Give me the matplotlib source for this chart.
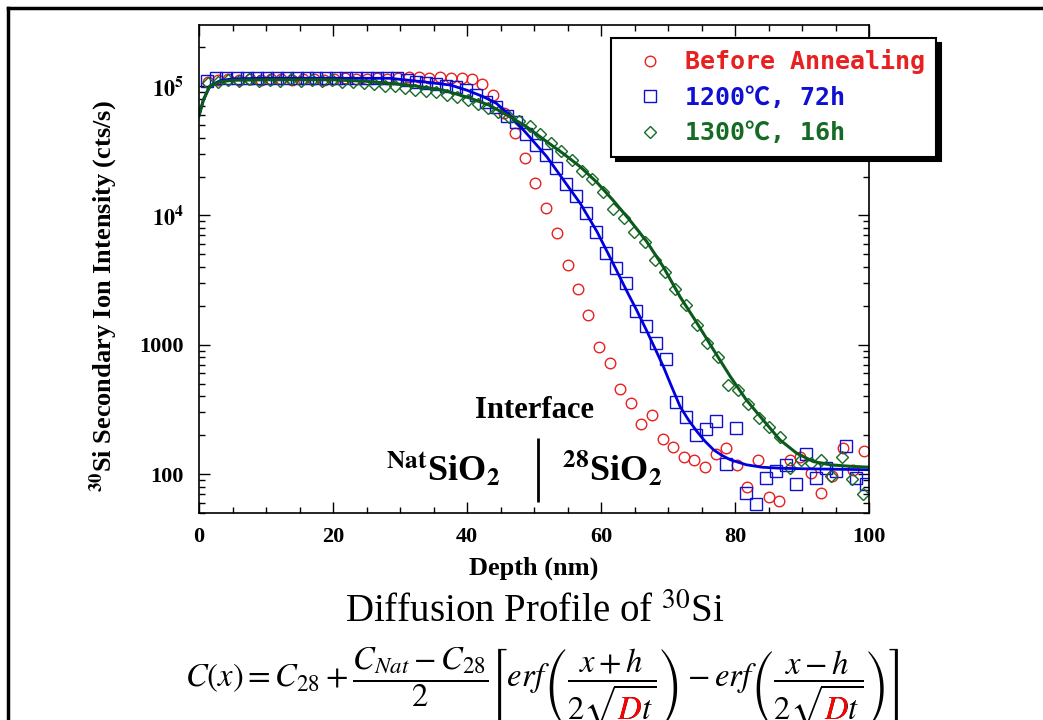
import matplotlib
matplotlib.use("Agg")
import matplotlib.pyplot as plt
from matplotlib.lines import Line2D
from matplotlib.ticker import FixedLocator, MultipleLocator, LogLocator, NullFormatter
from matplotlib.mathtext import MathTextParser
from matplotlib.font_manager import FontProperties
from matplotlib.transforms import Bbox

plt.rcParams["font.family"] = "Liberation Serif"
plt.rcParams["mathtext.fontset"] = "stix"

# Before annealing (red circles)
depth_before = [1.3, 2.8, 4.4, 6.0, 7.6, 9.2, 10.7, 12.3, 13.9, 15.5,
                17.1, 18.6, 20.2, 21.8, 23.4, 25.0, 26.5, 28.1, 29.7, 31.3,
                32.9, 34.4, 36.0, 37.6, 39.2, 40.8, 42.3, 43.9, 45.5, 47.1,
                48.7, 50.2, 51.8, 53.4, 55.0, 56.6, 58.1, 59.7, 61.3, 62.9,
                64.5, 66.0, 67.6, 69.2, 70.8, 72.4, 73.9, 75.5, 77.1, 78.7,
                80.3, 81.8, 83.4, 85.0, 86.6, 88.2, 89.7, 91.3, 92.9, 94.5,
                96.1, 97.6, 99.2]
int_before = [1.08e5, 1.12e5, 1.13e5, 1.12e5, 1.14e5, 1.12e5, 1.13e5, 1.14e5, 1.12e5, 1.13e5,
              1.14e5, 1.12e5, 1.13e5, 1.15e5, 1.13e5, 1.14e5, 1.15e5, 1.14e5, 1.16e5, 1.18e5,
              1.18e5, 1.15e5, 1.18e5, 1.15e5, 1.15e5, 1.13e5, 1.03e5, 8.6e4, 6.2e4, 4.35e4,
              2.8e4, 1.79e4, 1.14e4, 7.3e3, 4.14e3, 2.69e3, 1.69e3, 955, 719, 455,
              353, 243, 287, 186, 163, 135, 129, 114, 143, 159,
              118, 80, 129, 67, 62, 129, 136, 102, 72, 96,
              159, 108, 152]

# 1200C, 72h (blue squares)
depth_1200 = [1.2, 2.6, 4.1, 5.6, 7.1, 8.6, 10.1, 11.6, 13.1, 14.6,
              16.1, 17.5, 19.0, 20.5, 22.0, 23.5, 25.0, 26.5, 28.0, 29.5,
              31.0, 32.4, 33.9, 35.4, 36.9, 38.4, 39.9, 41.4, 42.9, 44.4,
              45.9, 47.3, 48.8, 50.3, 51.8, 53.3, 54.8, 56.3, 57.8, 59.3,
              60.8, 62.2, 63.7, 65.2, 66.7, 68.2, 69.7, 71.2, 72.7, 74.2,
              75.7, 77.1, 78.6, 80.1, 81.6, 83.1, 84.6, 86.1, 87.6, 89.1,
              90.6, 92.1, 93.6, 95.0, 96.5, 98.0, 99.5]
int_1200 = [1.10e5, 1.15e5, 1.16e5, 1.15e5, 1.16e5, 1.15e5, 1.16e5, 1.15e5, 1.16e5, 1.15e5,
            1.16e5, 1.15e5, 1.16e5, 1.15e5, 1.16e5, 1.15e5, 1.15e5, 1.16e5, 1.15e5, 1.15e5,
            1.12e5, 1.08e5, 1.06e5, 1.04e5, 1.01e5, 9.8e4, 9.3e4, 8.6e4, 7.6e4, 6.9e4,
            5.9e4, 5.3e4, 4.3e4, 3.5e4, 2.93e4, 2.31e4, 1.75e4, 1.41e4, 1.05e4, 7.5e3,
            5.1e3, 3.9e3, 2.99e3, 1.82e3, 1.40e3, 1.04e3, 772, 363, 275, 201,
            223, 259, 120, 226, 71, 59, 93, 106, 118, 84,
            143, 93, 111, 106, 166, 93, 84]

# 1300C, 16h (green diamonds)
depth_1300 = [1.3, 2.8, 4.4, 5.9, 7.5, 9.0, 10.6, 12.1, 13.7, 15.2,
              16.8, 18.3, 19.9, 21.4, 23.0, 24.6, 26.1, 27.7, 29.2, 30.8,
              32.3, 33.9, 35.4, 37.0, 38.5, 40.1, 41.6, 43.2, 44.7, 46.3,
              47.8, 49.4, 50.9, 52.5, 54.0, 55.6, 57.2, 58.7, 60.3, 61.8,
              63.4, 64.9, 66.5, 68.0, 69.6, 71.1, 72.7, 74.3, 75.8, 77.4,
              78.9, 80.5, 82.0, 83.6, 85.1, 86.7, 88.2, 89.8, 91.3, 92.9,
              94.4, 96.0, 97.5, 99.1]
int_1300 = [1.05e5, 1.08e5, 1.12e5, 1.09e5, 1.13e5, 1.09e5, 1.12e5, 1.09e5, 1.13e5, 1.09e5,
            1.12e5, 1.09e5, 1.12e5, 1.08e5, 1.07e5, 1.05e5, 1.03e5, 1.01e5, 1.0e5, 9.6e4,
            9.3e4, 9.2e4, 9.0e4, 8.6e4, 8.2e4, 7.8e4, 7.3e4, 6.8e4, 6.3e4, 5.8e4,
            5.4e4, 4.9e4, 4.26e4, 3.65e4, 3.16e4, 2.68e4, 2.21e4, 1.9e4, 1.52e4, 1.13e4,
            9.5e3, 7.5e3, 6.2e3, 4.5e3, 3.67e3, 2.69e3, 2.03e3, 1.42e3, 1.03e3, 800,
            489, 448, 349, 271, 233, 195, 111, 129, 121, 129,
            96, 135, 91, 70]

# fitted profiles
fit_depth_1200 = [0, 0.65, 1.6, 3.1, 5, 10, 20, 28.5, 33.5, 37.5, 40, 42.4, 44.4, 46.4,
                  48.9, 51.9, 54.4, 56.9, 59.4, 61.8, 63.8, 65.3, 66.8, 68.0, 69.3, 70.5,
                  71.8, 73.0, 74.3, 75.5, 76.8, 78.0, 79.3, 81.7, 84.0, 86.7, 90, 95, 100]
fit_int_1200 = [5.9e4, 7.8e4, 1.0e5, 1.1e5, 1.14e5, 1.15e5, 1.15e5, 1.15e5, 1.08e5, 1.02e5, 9.3e4, 8.3e4, 7.35e4, 5.97e4,
                4.3e4, 2.85e4, 1.88e4, 1.24e4, 7.5e3, 4.26e3, 2.63e3, 1.86e3, 1.29e3, 950, 680, 480,
                333, 265, 214, 180, 154, 140, 129, 118, 113, 111, 110, 109, 108]
fit_depth_1300 = [0, 0.65, 1.6, 3.1, 5, 10, 20, 25, 28.5, 32.5, 36.5, 40.4, 43.4, 46.4,
                  48.9, 51.9, 54.4, 56.9, 59.4, 61.8, 64.3, 66.8, 69.3, 71.8, 74.3, 76.8,
                  79.3, 81.7, 84.2, 86.7, 89.2, 91.7, 94.2, 97, 100]
fit_int_1300 = [5.9e4, 7.8e4, 1.0e5, 1.08e5, 1.11e5, 1.12e5, 1.12e5, 1.09e5, 1.05e5, 1.0e5, 9.3e4, 8.1e4, 7.1e4, 5.8e4,
                4.85e4, 3.72e4, 3.0e4, 2.38e4, 1.8e4, 1.31e4, 9.2e3, 6.3e3, 4.0e3, 2.35e3, 1.48e3, 912,
                568, 374, 262, 184, 145, 125, 118, 115, 113]

labels = ["Before Annealing", "1200\u2103, 72h", "1300\u2103, 16h"]
colors = ["#e82020", "#1010d0", "#156b25"]
line_colors = ["#0000dd", "#0b5a1c"]
interface_depth = 50.6

fig = plt.figure(figsize=(10.43, 7.2), dpi=100)
ax = fig.add_axes([199 / 1043, 207 / 720, 670 / 1043, 488 / 720])

ax.plot(depth_before, int_before, "o", ms=7.6, mfc="none", mec=colors[0], mew=1.0, label=labels[0])
ax.plot(depth_1200, int_1200, "s", ms=8.3, mfc="none", mec=colors[1], mew=1.0, label=labels[1])
ax.plot(depth_1300, int_1300, "D", ms=6.6, mfc="none", mec=colors[2], mew=1.0, label=labels[2])
ax.plot(fit_depth_1200, fit_int_1200, "-", color=line_colors[0], lw=2)
ax.plot(fit_depth_1300, fit_int_1300, "-", color=line_colors[1], lw=2.2)

ax.set_yscale("log")
ax.set_xlim(0, 100)
ax.set_ylim(50, 2.97e5)

ax.yaxis.set_major_locator(FixedLocator([100, 1000, 1e4, 1e5]))
ax.set_yticklabels(["100", "1000", r"$\mathbf{10^{4}}$", r"$\mathbf{10^{5}}$"])
ax.yaxis.set_minor_locator(LogLocator(base=10, subs=range(2, 10)))
ax.yaxis.set_minor_formatter(NullFormatter())
ax.xaxis.set_major_locator(MultipleLocator(20))
ax.xaxis.set_minor_locator(MultipleLocator(5))

ax.tick_params(which="both", direction="in", top=True, right=True, width=1)
ax.tick_params(which="major", length=8)
ax.tick_params(which="minor", length=4)
ax.tick_params(axis="y", pad=11)
ax.tick_params(axis="x", pad=10)
for t in ax.get_xticklabels() + ax.get_yticklabels():
    t.set_fontsize(16)
    t.set_fontweight("bold")
for s in ax.spines.values():
    s.set_linewidth(1.2)

ax.set_xlabel("Depth (nm)", fontsize=19, fontweight="bold")
ax.xaxis.set_label_coords(0.5, -0.09)
ax.set_ylabel(r"$^{\mathbf{30}}$Si Secondary Ion Intensity (cts/s)", fontsize=19, fontweight="bold")
ax.yaxis.set_label_coords(-0.118, 0.445)

leg = ax.legend(loc="upper left", bbox_to_anchor=(611 / 1043, 1 - 38 / 720),
                bbox_transform=fig.transFigure, frameon=True, fancybox=False, framealpha=1,
                shadow={"ox": 3.5, "oy": -3.5, "color": "black", "alpha": 1},
                borderaxespad=0, numpoints=1,
                prop={"family": ["DejaVu Sans Mono", "Noto Sans CJK JP"], "size": 18, "weight": "bold"},
                handlelength=2.2, handletextpad=0.3, labelspacing=0.46, borderpad=0.45)
leg.get_frame().set_edgecolor("black")
leg.get_frame().set_linewidth(1.5)
for t, c in zip(leg.get_texts(), colors):
    t.set_color(c)

# interface annotation
ax.vlines(interface_depth, 61, 190, color="black", lw=2)
fig.text(534 / 1043, 1 - 418 / 720, "Interface", fontsize=22, fontweight="bold",
         ha="center", va="baseline")
fig.text(443 / 1043, 1 - 481 / 720, r"$^{\mathbf{Nat}}$SiO$_{\mathbf{2}}$", fontsize=26,
         fontweight="bold", ha="center", va="baseline")
fig.text(612 / 1043, 1 - 481 / 720, r"$^{\mathbf{28}}$SiO$_{\mathbf{2}}$", fontsize=26,
         fontweight="bold", ha="center", va="baseline")

# caption and formula
fig.text(535 / 1043, 1 - 612 / 720, r"Diffusion Profile of $^{\mathrm{30}}$Si", fontsize=28,
         ha="center", va="center")

formula = (r"$C(x)=C_{28}+\dfrac{C_{Nat}-C_{28}}{2}\left[erf\left(\dfrac{x+h}{2\sqrt{Dt}}\right)"
           r"-erf\left(\dfrac{x-h}{2\sqrt{Dt}}\right)\right]$")
fsize = 23.5
fx, fy = 185 / 1043, 1 - 687 / 720
fig.text(fx, fy, formula, fontsize=fsize, ha="left", va="baseline")

# the D in both denominators is red: redraw the formula in red, clipped to each D
em = fsize * 100 / 72
parsed = MathTextParser("path").parse(formula, dpi=72, prop=FontProperties(size=fsize))
for glyph in parsed.glyphs:
    num, ox, oy = glyph[2], glyph[3], glyph[4]
    if num == ord("D"):
        x0 = fx * 1043 + ox * 100 / 72
        y0 = fy * 720 + oy * 100 / 72
        red = fig.text(fx, fy, formula, fontsize=fsize, color="red", ha="left", va="baseline")
        red.set_clip_box(Bbox([[x0 - 2, y0 - 4], [x0 + 0.78 * em, y0 + 0.69 * em]]))
        red.set_clip_on(True)

# slide frame
fig.add_artist(Line2D([8 / 1043, 8 / 1043], [0, 1 - 8 / 720], color="black", lw=2.5))
fig.add_artist(Line2D([8 / 1043, 1], [1 - 8 / 720, 1 - 8 / 720], color="black", lw=2.5))

fig.savefig("out.png", dpi=100)
